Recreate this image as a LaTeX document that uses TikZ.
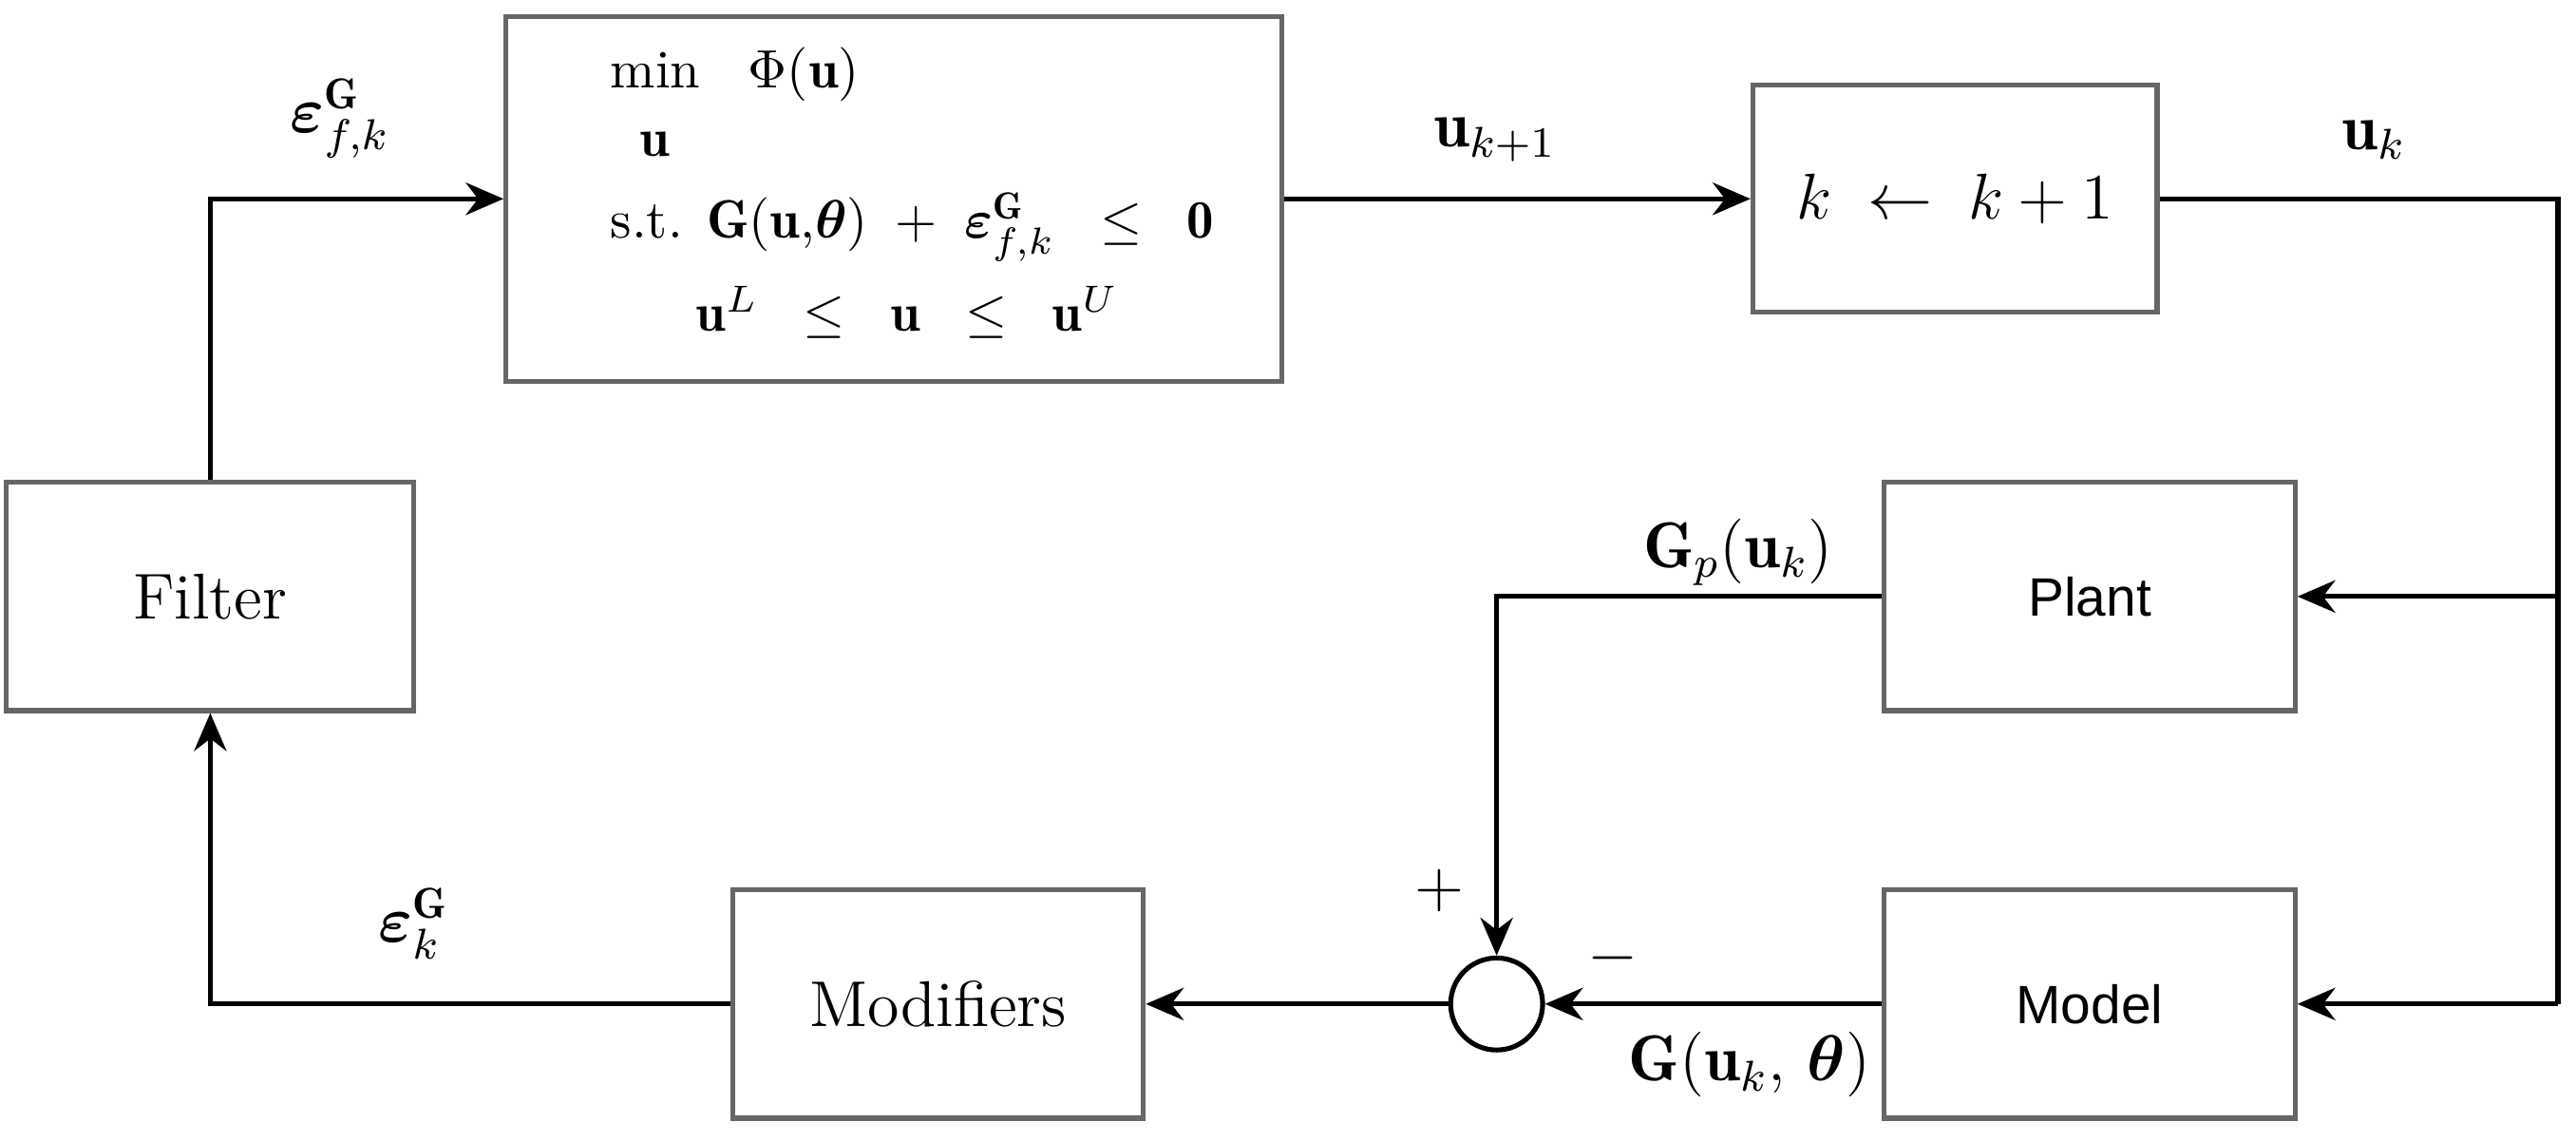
\documentclass[tikz,border=0pt]{standalone}
\usepackage{amsmath,bm}
\usepackage{fontspec}
\newfontfamily\sansf{Liberation Sans}
\usetikzlibrary{arrows.meta}
\begin{document}
\begin{tikzpicture}[x=0.0107cm,y=-0.0107cm,
  box/.style={draw=black!60,line width=0.9pt},
  ar/.style={-{Stealth[length=7pt,width=6pt]},line width=0.9pt},
  ln/.style={line width=0.9pt}]
\useasboundingbox (0,0) rectangle (1568,694);
\node[box,minimum width=472*0.0107cm,minimum height=222*0.0107cm] (opt) at (544,121) {};
\node[box,minimum width=246*0.0107cm,minimum height=138*0.0107cm,font=\large] (kb) at (1190,121) {$k\;\leftarrow\;k+1$};
\node[box,minimum width=248*0.0107cm,minimum height=139*0.0107cm,font=\large] (filt) at (128,363) {Filter};
\node[box,minimum width=250*0.0107cm,minimum height=139*0.0107cm,font=\sansf] (plant) at (1272,363) {Plant};
\node[box,minimum width=250*0.0107cm,minimum height=139*0.0107cm,font=\sansf] (model) at (1272,611) {Model};
\node[box,minimum width=250*0.0107cm,minimum height=139*0.0107cm,font=\large] (mod) at (571,611) {Modifiers};
\node[draw,circle,line width=0.9pt,minimum size=56*0.0107cm,inner sep=0] (sum) at (911,611) {};
% optimization text
\node[anchor=west] (t1) at (360,45) {min\;\; $\Phi(\mathbf{u})$};
\node[anchor=west] (t2) at (378,88) {$\mathbf{u}$};
\node[anchor=west] (t3) at (360,138) {s.t. $\mathbf{G}(\mathbf{u},\!\bm{\theta})\;+\;\bm{\varepsilon}^{\mathbf{G}}_{f,k}\;\;\le\;\;\mathbf{0}$};
\node[anchor=west] (t4) at (412,190) {$\mathbf{u}^L\;\;\le\;\;\mathbf{u}\;\;\le\;\;\mathbf{u}^U$};
% connectors
\coordinate (tr) at (1557,121);
\coordinate (pr) at (1557,363);
\coordinate (mr) at (1557,611);
\coordinate (fc) at (128,121);
\coordinate (mc) at (128,611);
\coordinate (pc) at (911,363);
\draw[ar] (filt.north) -- (fc) -- (opt.west);
\draw[ar] (opt.east) -- (kb.west);
\draw[ln] (kb.east) -- (tr) -- (mr);
\draw[ar] (pr) -- (plant.east);
\draw[ar] (mr) -- (model.east);
\draw[ar] (plant.west) -- (pc) -- (sum.north);
\draw[ar] (model.west) -- (sum.east);
\draw[ar] (sum.west) -- (mod.east);
\draw[ar] (mod.west) -- (mc) -- (filt.south);
% labels
\node[font=\large] (l1) at (207,72) {$\bm{\varepsilon}^{\mathbf{G}}_{f,k}$};
\node[font=\large] (l2) at (910,85) {$\mathbf{u}_{k+1}$};
\node[font=\large] (l3) at (1445,85) {$\mathbf{u}_k$};
\node[font=\large] (l4) at (1058,336) {$\mathbf{G}_p(\mathbf{u}_k)$};
\node[font=\large] (l5) at (876,542) {$+$};
\node[font=\large] (l6) at (982,583) {$-$};
\node[font=\large] (l7) at (1065,648) {$\mathbf{G}(\mathbf{u}_k,\,\bm{\theta})$};
\node[font=\large] (l8) at (252,562) {$\bm{\varepsilon}^{\mathbf{G}}_{k}$};
\end{tikzpicture}
\end{document}
